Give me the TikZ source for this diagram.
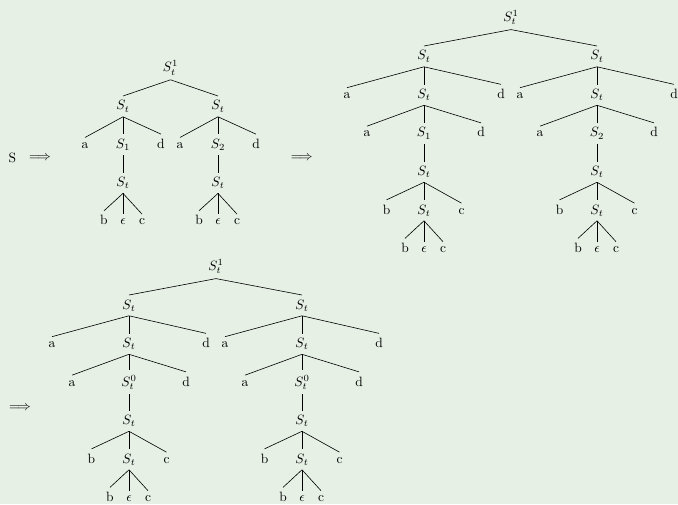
\documentclass[tikz,border=0pt]{standalone}
\definecolor{bg}{RGB}{230,240,229}
\tikzset{
  T/.style={anchor=base, inner sep=3.333pt},
  E/.style={line width=0.45pt},
}
\newcommand{\deeptree}[3]{%
\begin{scope}[shift={#2}]
\node[T] (#1r) at (0,0) {$S_t^1$};
\node[T] (#1L) at (-87,38.5) {$S_t$};
\node[T] (#1R) at (86,38.5) {$S_t$};
\node[T] (#1La) at (-164,77) {a};
\node[T] (#1Lm) at (-87,77) {$S_t$};
\node[T] (#1Ld) at (-10,77) {d};
\node[T] (#1Ra) at (9,77) {a};
\node[T] (#1Rm) at (86,77) {$S_t$};
\node[T] (#1Rd) at (163,77) {d};
\node[T] (#1Laa) at (-144,115.5) {a};
\node[T] (#1Lx) at (-87,115.5) {$#3{1}$};
\node[T] (#1Ldd) at (-30,115.5) {d};
\node[T] (#1Raa) at (29,115.5) {a};
\node[T] (#1Rx) at (86,115.5) {$#3{2}$};
\node[T] (#1Rdd) at (143,115.5) {d};
\node[T] (#1Ls) at (-87,154) {$S_t$};
\node[T] (#1Rs) at (86,154) {$S_t$};
\node[T] (#1Lb) at (-124.5,192.5) {b};
\node[T] (#1Lt) at (-87,192.5) {$S_t$};
\node[T] (#1Lc) at (-49.5,192.5) {c};
\node[T] (#1Rb) at (48.5,192.5) {b};
\node[T] (#1Rt) at (86,192.5) {$S_t$};
\node[T] (#1Rc) at (123.5,192.5) {c};
\node[T] (#1Lbb) at (-106,231) {b};
\node[T] (#1Le) at (-87,231) {$\epsilon$};
\node[T] (#1Lcc) at (-68,231) {c};
\node[T] (#1Rbb) at (67,231) {b};
\node[T] (#1Re) at (86,231) {$\epsilon$};
\node[T] (#1Rcc) at (105,231) {c};
\foreach \p/\c in {r/L,r/R,L/La,L/Lm,L/Ld,R/Ra,R/Rm,R/Rd,Lm/Laa,Lm/Lx,Lm/Ldd,Rm/Raa,Rm/Rx,Rm/Rdd,Lx/Ls,Rx/Rs,Ls/Lb,Ls/Lt,Ls/Lc,Rs/Rb,Rs/Rt,Rs/Rc,Lt/Lbb,Lt/Le,Lt/Lcc,Rt/Rbb,Rt/Re,Rt/Rcc}
  \draw[E] (#1\p.south) -- (#1\c.north);
\end{scope}}
\newcommand{\subone}[1]{S_{#1}}
\newcommand{\subzero}[1]{S_t^0}
\begin{document}
\begin{tikzpicture}[x=0.7407pt,y=-0.7407pt]
\fill[bg] (0,0) rectangle (678,504);
\useasboundingbox (0,0) rectangle (678,504);
% left expression
\node[T] (S) at (12.3,162) {S};
\node (arr1) at (40,158.3) {$\Longrightarrow$};
\node (arr2) at (301.7,158.3) {$\Longrightarrow$};
\node (arr3) at (20,408.3) {$\Longrightarrow$};
% small tree
\begin{scope}[shift={(170.5,71.7)}]
\node[T] (ar) at (0,0) {$S_t^1$};
\node[T] (aL) at (-47.5,38.3) {$S_t$};
\node[T] (aR) at (47.5,38.3) {$S_t$};
\node[T] (aLa) at (-85.5,76.6) {a};
\node[T] (aLx) at (-47.5,76.6) {$S_1$};
\node[T] (aLd) at (-9.5,76.6) {d};
\node[T] (aRa) at (9.5,76.6) {a};
\node[T] (aRx) at (47.5,76.6) {$S_2$};
\node[T] (aRd) at (85.5,76.6) {d};
\node[T] (aLs) at (-47.5,114.9) {$S_t$};
\node[T] (aRs) at (47.5,114.9) {$S_t$};
\node[T] (aLb) at (-66.5,153.2) {b};
\node[T] (aLe) at (-47.5,153.2) {$\epsilon$};
\node[T] (aLc) at (-28.5,153.2) {c};
\node[T] (aRb) at (28.5,153.2) {b};
\node[T] (aRe) at (47.5,153.2) {$\epsilon$};
\node[T] (aRc) at (66.5,153.2) {c};
\foreach \p/\c in {r/L,r/R,L/La,L/Lx,L/Ld,R/Ra,R/Rx,R/Rd,Lx/Ls,Rx/Rs,Ls/Lb,Ls/Le,Ls/Lc,Rs/Rb,Rs/Re,Rs/Rc}
  \draw[E] (a\p.south) -- (a\c.north);
\end{scope}
\deeptree{b}{(511,21.5)}{\subone}
\deeptree{c}{(216,270.5)}{\subzero}
\end{tikzpicture}
\end{document}
